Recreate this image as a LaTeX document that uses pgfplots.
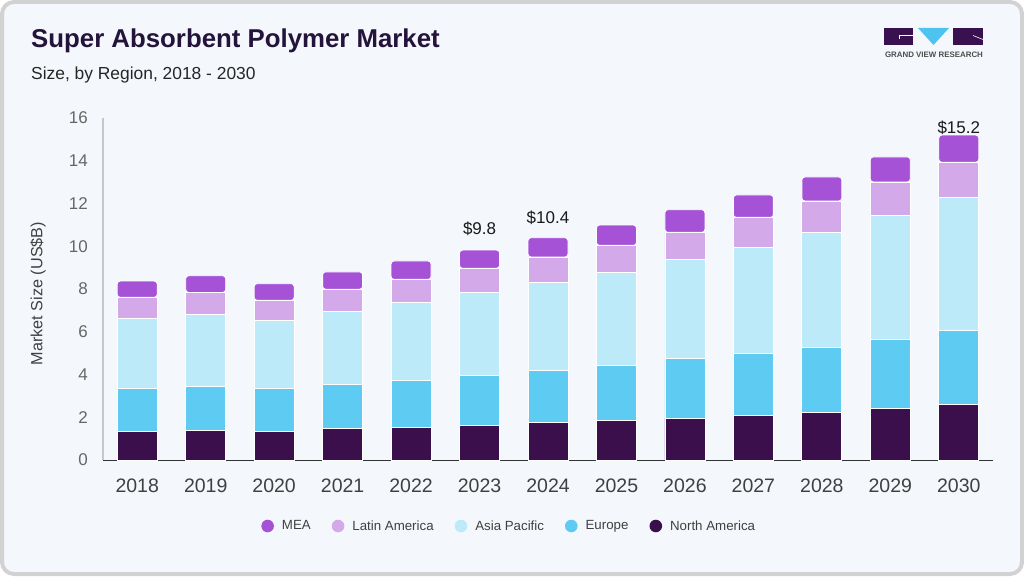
\documentclass[border=0pt]{standalone}
\usepackage{pgfplots}
\usepackage{pgfplotstable}
\pgfplotsset{compat=1.18}
\usepackage{fontspec}
\setmainfont{Liberation Sans}
\definecolor{cardbg}{HTML}{F4F8FC}
\definecolor{cardborder}{HTML}{D2D2D2}
\definecolor{titlec}{HTML}{24133B}
\definecolor{cMEA}{HTML}{A552D6}
\definecolor{cLA}{HTML}{D4A9E9}
\definecolor{cAP}{HTML}{BDEAF9}
\definecolor{cEU}{HTML}{5ECBF3}
\definecolor{cNA}{HTML}{3A0F4C}
\definecolor{logodark}{HTML}{3A1150}
\definecolor{logoblue}{HTML}{4FC3F0}

\pgfplotstableread{
x year NA EU AP LA MEA
0 2018 1.34 2.01 3.28 0.98 0.76
1 2019 1.39 2.06 3.36 1.03 0.78
2 2020 1.34 2.01 3.19 0.93 0.78
3 2021 1.48 2.04 3.44 1.03 0.81
4 2022 1.51 2.20 3.67 1.07 0.86
5 2023 1.62 2.34 3.88 1.13 0.85
6 2024 1.76 2.44 4.11 1.19 0.90
7 2025 1.86 2.57 4.35 1.26 0.95
8 2026 1.95 2.78 4.66 1.26 1.06
9 2027 2.09 2.90 4.97 1.39 1.05
10 2028 2.23 3.04 5.38 1.47 1.12
11 2029 2.42 3.23 5.80 1.56 1.17
12 2030 2.61 3.44 6.24 1.64 1.27
}\datatable

\begin{document}
\begin{tikzpicture}[x=1pt,y=1pt]
\useasboundingbox (0,0) rectangle (1024,576);
\fill[white] (0,0) rectangle (1024,576);
\draw[line width=4pt, draw=cardborder, fill=cardbg, rounded corners=12pt] (2,2) rectangle (1022,574);

% title
\node[anchor=base west, inner sep=0pt, text=titlec, font=\fontsize{25.8}{30}\selectfont\bfseries] at (31,528) {Super Absorbent Polymer Market};
\node[anchor=base west, inner sep=0pt, text=black!85, font=\fontsize{17.4}{21}\selectfont] at (31,496) {Size, by Region, 2018 - 2030};

% logo
\fill[logodark] (884,531) rectangle (913,548);
\fill[logoblue] (918,548) -- (949,548) -- (933.5,531) -- cycle;
\fill[logodark] (953,531) rectangle (983,548);
\draw[white, line width=0.6pt] (899,537) -- (899,540.3) -- (913,540.3);
\draw[white, line width=0.6pt] (973,540.5) -- (983,536.5);
\node[anchor=center, inner sep=0pt, text=black!70, font=\fontsize{7.9}{9}\selectfont\bfseries] at (934,521) {GRAND VIEW RESEARCH};

\begin{axis}[
  at={(103pt,116pt)}, anchor=south west,
  scale only axis, width=890pt, height=342pt,
  ybar stacked, bar width=40pt,
  xmin=-0.5, xmax=12.5, ymin=0, ymax=16,
  xtick={0,...,12},
  xticklabels={2018,2019,2020,2021,2022,2023,2024,2025,2026,2027,2028,2029,2030},
  ytick={0,2,...,16},
  major tick length=0pt,
  axis x line=bottom, axis y line=left,
  x axis line style={-, draw=black!80, line width=1pt},
  y axis line style={-, draw=black!22, line width=1.6pt},
  /pgf/number format/assume math mode=true,
  xticklabel style={font=\fontsize{19.5}{22}\selectfont, text=black!75, anchor=north, inner sep=0pt, yshift=-19pt},
  yticklabel style={font=\fontsize{17}{20}\selectfont, text=black!60, anchor=east, inner sep=0pt, xshift=-15pt},
  ylabel={Market Size (US\$B)},
  every axis y label/.style={at={(axis description cs:-0.0730,0.487)}, rotate=90, anchor=center, font=\fontsize{16.2}{19}\selectfont, text=black!75},
  clip=false,
  legend columns=5,
  legend style={at={(axis description cs:0.4553,-0.193)}, anchor=center, draw=none, fill=none,
    font=\fontsize{13.3}{16}\selectfont, text=black!75,
    cells={anchor=west}, nodes={inner sep=0pt},
    /tikz/every odd column/.append style={column sep=8pt},
    /tikz/every even column/.append style={column sep=21pt}},
  legend image code/.code={\fill[#1] (0pt,0pt) circle (6.3pt);},
]
\addplot[fill=cNA, draw=white, line width=0.8pt, forget plot] table[x=x, y=NA] {\datatable};
\addplot[fill=cEU, draw=white, line width=0.8pt, forget plot] table[x=x, y=EU] {\datatable};
\addplot[fill=cAP, draw=white, line width=0.8pt, forget plot] table[x=x, y=AP] {\datatable};
\addplot[fill=cLA, draw=white, line width=0.8pt, forget plot] table[x=x, y=LA] {\datatable};
\addplot[fill=cMEA, draw=white, line width=0.8pt, rounded corners=3pt, forget plot] table[x=x, y=MEA] {\datatable};

\addlegendimage{fill=cMEA, draw=none}\addlegendentry{MEA}
\addlegendimage{fill=cLA, draw=none}\addlegendentry{Latin America}
\addlegendimage{fill=cAP, draw=none}\addlegendentry{Asia Pacific}
\addlegendimage{fill=cEU, draw=none}\addlegendentry{Europe}
\addlegendimage{fill=cNA, draw=none}\addlegendentry{North America}

\node[font=\fontsize{17}{20}\selectfont, text=black!90, anchor=center, inner sep=0pt] at (axis cs:5,10.81) {\$9.8};
\node[font=\fontsize{17}{20}\selectfont, text=black!90, anchor=center, inner sep=0pt] at (axis cs:6,11.31) {\$10.4};
\node[font=\fontsize{17}{20}\selectfont, text=black!90, anchor=center, inner sep=0pt] at (axis cs:12,15.56) {\$15.2};
\end{axis}
\end{tikzpicture}
\end{document}
